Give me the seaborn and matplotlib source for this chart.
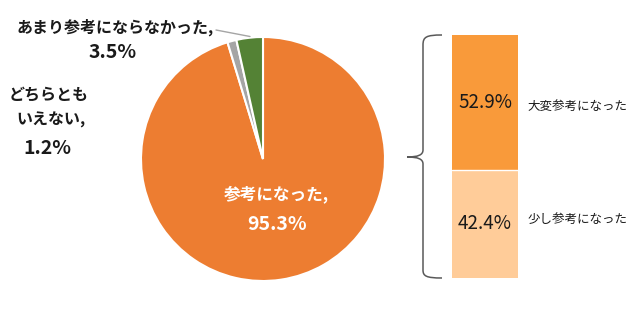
import matplotlib
matplotlib.use("Agg")
import matplotlib.pyplot as plt
from matplotlib.path import Path
from matplotlib.patches import PathPatch
import seaborn as sns
import pandas as pd

# data
pie_labels = ["参考になった", "どちらともいえない", "あまり参考にならなかった"]
pie_values = [95.3, 1.2, 3.5]
pie_colors = ["#ED7D31", "#A5A5A5", "#548235"]

bar_labels = ["大変参考になった", "少し参考になった"]
bar_values = [52.9, 42.4]
bar_colors = ["#F99A3A", "#FFCC99"]

sns.set_theme(style="white")
plt.rcParams['font.family'] = ['Noto Sans CJK JP', 'DejaVu Sans']

W, H = 636, 318
fig = plt.figure(figsize=(W / 100, H / 100), dpi=100)
fig.patch.set_facecolor("white")

def px_axes(x0, y0, x1, y1):
    return fig.add_axes([x0 / W, 1 - y1 / H, (x1 - x0) / W, (y1 - y0) / H])

# pie
cx, cy, r = 263, 159, 122
axp = px_axes(cx - r, cy - r, cx + r, cy + r)
axp.pie(pie_values, colors=pie_colors, startangle=90, counterclock=False,
        radius=1.0, wedgeprops=dict(edgecolor="white", linewidth=1.5))
axp.set_xlim(-1, 1)
axp.set_ylim(-1, 1)
axp.set_aspect("auto")
axp.axis("off")

# stacked bar
axb = px_axes(452, 35, 518, 278)
total = sum(bar_values)
df_tot = pd.DataFrame({"g": ["a"], "v": [total]})
df_low = pd.DataFrame({"g": ["a"], "v": [bar_values[1]]})
sns.barplot(data=df_tot, x="g", y="v", color=bar_colors[0], width=1.0,
            saturation=1, ax=axb, edgecolor="white", linewidth=0)
sns.barplot(data=df_low, x="g", y="v", color=bar_colors[1], width=1.0,
            saturation=1, ax=axb, edgecolor="white", linewidth=0)
axb.axhline(bar_values[1], color="white", lw=1)
axb.set_xlim(-0.5, 0.5)
axb.set_ylim(0, total)
axb.axis("off")
axb.text(0, bar_values[1] + bar_values[0] / 2, f"{bar_values[0]}%", ha="center",
         va="center", fontsize=13.5, color="#1a1a1a")
axb.text(0, bar_values[1] / 2, f"{bar_values[1]}%", ha="center",
         va="center", fontsize=13.5, color="#1a1a1a")

# overlay for annotations
ov = fig.add_axes([0, 0, 1, 1])
ov.set_xlim(0, W)
ov.set_ylim(H, 0)
ov.axis("off")
ov.patch.set_alpha(0)

dark = "#1a1a1a"
jp = 11.5
num = 14
ov.text(115, 27, pie_labels[2] + ",", ha="center", va="center", fontsize=jp,
        fontweight="bold", color=dark)
ov.text(113, 53, f"{pie_values[2]}%", ha="center", va="center", fontsize=num,
        fontweight="bold", color=dark)
ov.plot([216, 250], [30, 36.5], color="#A5A5A5", lw=1)

ov.text(9, 95, "どちらとも", ha="left", va="center", fontsize=jp,
        fontweight="bold", color=dark)
ov.text(16, 120, "いえない,", ha="left", va="center", fontsize=jp,
        fontweight="bold", color=dark)
ov.text(47, 148, f"{pie_values[1]}%", ha="center", va="center", fontsize=num,
        fontweight="bold", color=dark)

ov.text(276, 194, pie_labels[0] + ",", ha="center", va="center", fontsize=12,
        fontweight="bold", color="white")
ov.text(277, 225, f"{pie_values[0]}%", ha="center", va="center", fontsize=num,
        fontweight="bold", color="white")

ov.text(527, 106, bar_labels[0], ha="left", va="center", fontsize=9,
        color=dark)
ov.text(528, 219, bar_labels[1], ha="left", va="center", fontsize=9,
        color=dark)

# brace
verts = [(442, 35), (426, 35), (423, 37), (423, 45),
         (423, 150), (423, 155), (418, 157), (407, 157),
         (418, 157), (423, 159), (423, 164),
         (423, 270), (423, 276), (426, 278), (442, 278)]
codes = [Path.MOVETO, Path.CURVE4, Path.CURVE4, Path.CURVE4,
         Path.LINETO, Path.CURVE4, Path.CURVE4, Path.CURVE4,
         Path.CURVE4, Path.CURVE4, Path.CURVE4,
         Path.LINETO, Path.CURVE4, Path.CURVE4, Path.CURVE4]
ov.add_patch(PathPatch(Path(verts, codes), fill=False, edgecolor="#595959", lw=1.1))

fig.savefig("out.png", dpi=100, facecolor="white")
